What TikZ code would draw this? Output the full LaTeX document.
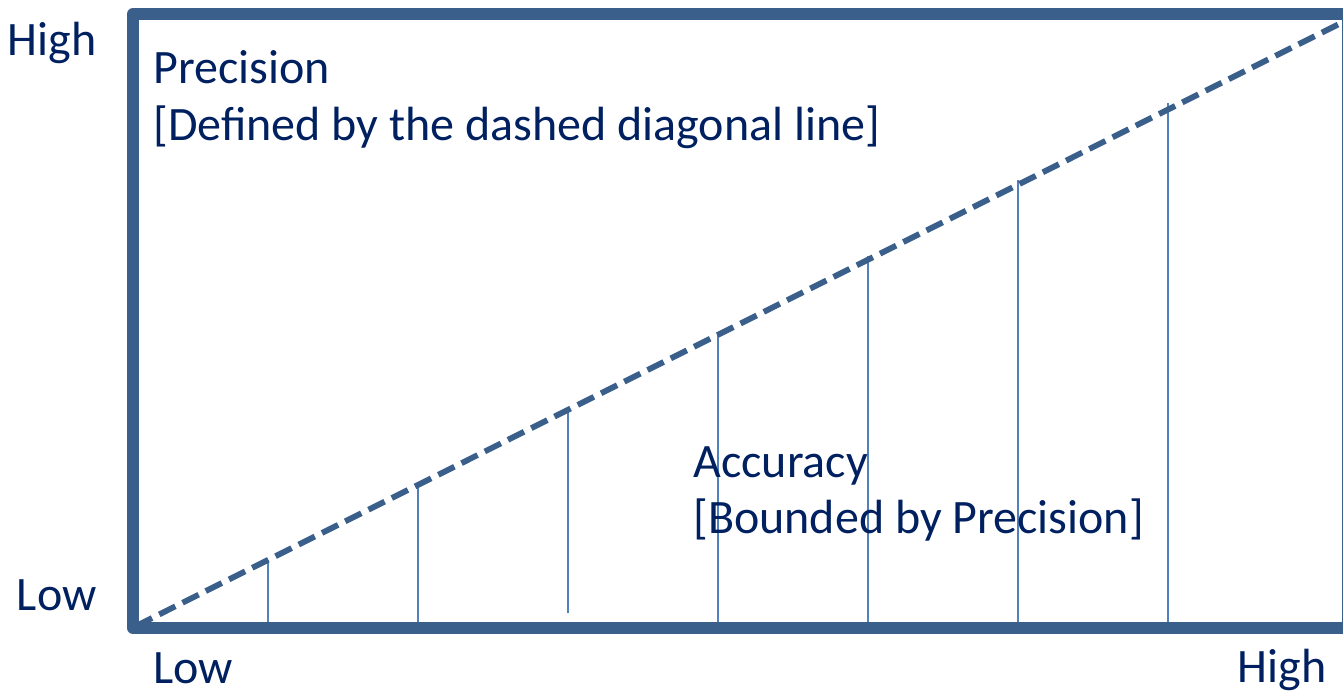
\documentclass[tikz,border=0pt]{standalone}
\usepackage{fontspec}
\setmainfont{Carlito}
\definecolor{framecol}{HTML}{3A5F8B}
\definecolor{barcol}{HTML}{4F81BD}
\definecolor{textcol}{HTML}{002060}
\begin{document}
\begin{tikzpicture}[x=0.5pt, y=-0.5pt,
    every node/.style={font=\fontsize{24}{29}\selectfont, text=textcol, inner sep=0pt},
    frame/.style={line width=6pt, color=framecol, line join=round},
    bar/.style={line width=1.4pt, color=barcol},
    diag/.style={line width=2.9pt, color=framecol, dash pattern=on 9pt off 4pt}]
    \useasboundingbox (0,0) rectangle (1343,693);

    % Rahmen
    \draw[frame] (133,14) rectangle (1348,628);

    % Senkrechte Linien
    \draw[bar] (268,622) -- (268,560);
    \draw[bar] (418,622) -- (418,484);
    \draw[bar] (568,613) -- (568,408);
    \draw[bar] (718,622) -- (718,332);
    \draw[bar] (868,622) -- (868,256);
    \draw[bar] (1018,622) -- (1018,180);
    \draw[bar] (1168,622) -- (1168,103);

    % Diagonale
    \coordinate (origin) at (136,626);
    \coordinate (corner) at (1343,22);
    \draw[diag] (origin) -- (corner);

    % Achsen
    \node[anchor=base east] (yhigh) at (97,55) {High};
    \node[anchor=base east] (ylow) at (97,610) {Low};
    \node[anchor=base west] (xlow) at (153,683) {Low};
    \node[anchor=base east] (xhigh) at (1327,682) {High};

    % Texte
    \node[anchor=base west] (prec) at (153,83) {Precision};
    \node[anchor=base west] (precsub) at (153,140) {[Defined by the dashed diagonal line]};
    \node[anchor=base west] (acc) at (693,477) {Accuracy};
    \node[anchor=base west] (accsub) at (693,533) {[Bounded by Precision]};
\end{tikzpicture}
\end{document}
